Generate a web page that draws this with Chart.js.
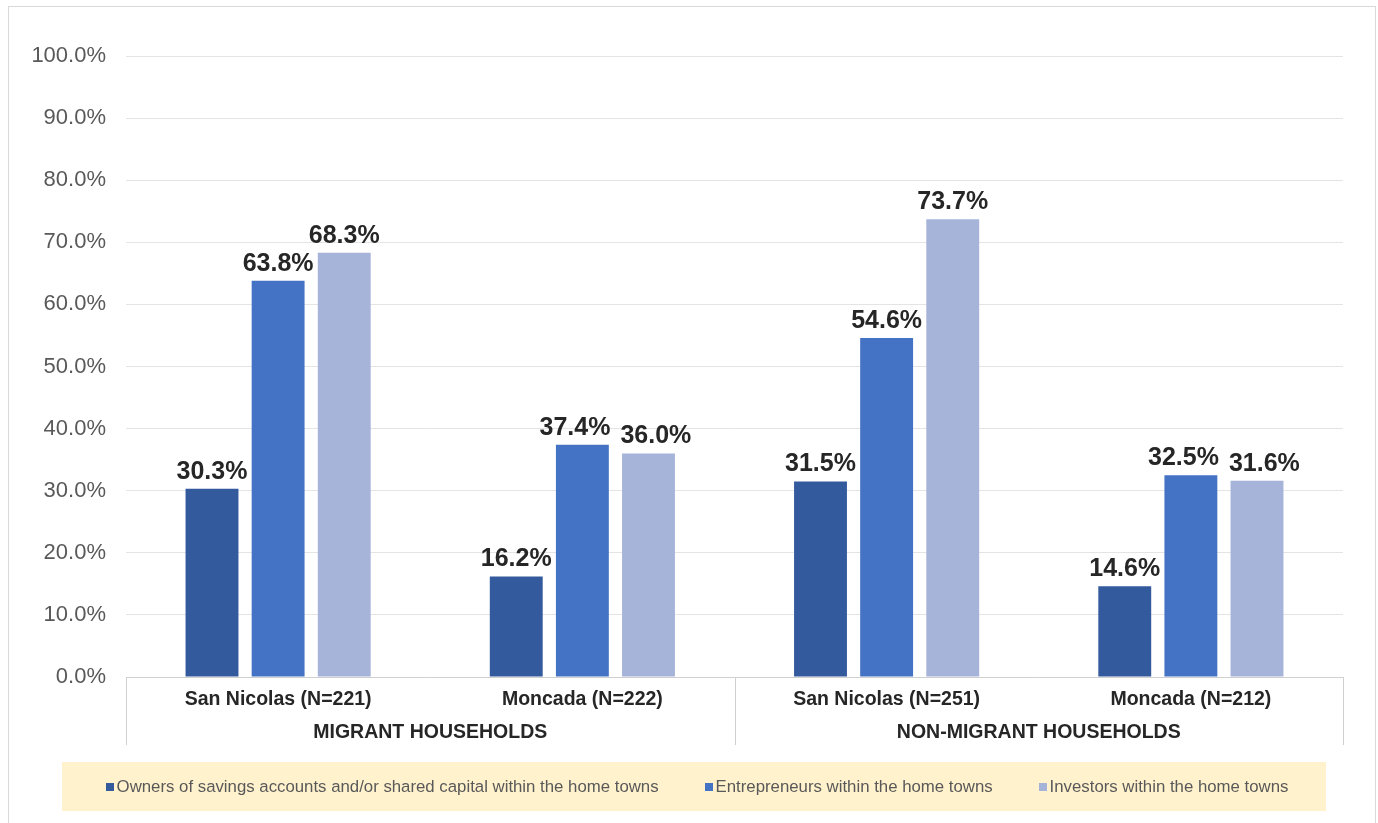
<!DOCTYPE html>
<html><head><meta charset="utf-8">
<script src="https://cdn.jsdelivr.net/npm/chart.js@4.4.1/dist/chart.umd.min.js"></script>
<style>html,body{margin:0;padding:0;background:#fff}#wrap{position:relative;width:1378px;height:823px}</style>
</head><body><div id="wrap"><canvas id="c" width="1378" height="823"></canvas></div>
<script>
const categories = ['San Nicolas (N=221)', 'Moncada (N=222)', 'San Nicolas (N=251)', 'Moncada (N=212)'];
const groups = ['MIGRANT HOUSEHOLDS', 'NON-MIGRANT HOUSEHOLDS'];
const seriesNames = [
  'Owners of savings accounts and/or shared capital within the home towns',
  'Entrepreneurs within the home towns',
  'Investors within the home towns'
];
const owners = [30.3, 16.2, 31.5, 14.6];
const entrepreneurs = [63.8, 37.4, 54.6, 32.5];
const investors = [68.3, 36.0, 73.7, 31.6];
const yMin = 0, yMax = 100, yStep = 10;

const FONT = "'Liberation Sans', Arial, Helvetica, sans-serif";
const colors = ['#345A9E', '#4472C4', '#A6B4DA'];

const decor = {
  id: 'decor',
  beforeDraw(chart) {
    const ctx = chart.ctx;
    ctx.save();
    ctx.fillStyle = '#fff';
    ctx.fillRect(0, 0, chart.width, chart.height);
    ctx.strokeStyle = '#d9d9d9';
    ctx.lineWidth = 1;
    ctx.strokeRect(8.5, 6.5, 1367, 830);
    ctx.restore();
  },
  afterDraw(chart) {
    const ctx = chart.ctx;
    const ca = chart.chartArea;
    const xs = chart.scales.x;
    ctx.save();
    // axis lines & group separators
    ctx.strokeStyle = '#d0d0d0';
    ctx.lineWidth = 1;
    ctx.beginPath();
    ctx.moveTo(ca.left, Math.round(ca.bottom) + 0.5);
    ctx.lineTo(ca.right, Math.round(ca.bottom) + 0.5);
    const mid = (xs.getPixelForValue(1) + xs.getPixelForValue(2)) / 2;
    [ca.left, mid, ca.right].forEach(x => {
      const px = Math.round(x) + 0.5;
      ctx.moveTo(px, ca.bottom);
      ctx.lineTo(px, ca.bottom + 68);
    });
    ctx.stroke();
    // group labels
    ctx.fillStyle = '#262626';
    ctx.font = 'bold 19.5px ' + FONT;
    ctx.textAlign = 'center';
    ctx.textBaseline = 'middle';
    ctx.fillText(groups[0], (xs.getPixelForValue(0) + xs.getPixelForValue(1)) / 2, ca.bottom + 56);
    ctx.fillText(groups[1], (xs.getPixelForValue(2) + xs.getPixelForValue(3)) / 2, ca.bottom + 56);
    // data labels with simple collision avoidance
    ctx.font = 'bold 25px ' + FONT;
    ctx.textBaseline = 'alphabetic';
    const capH = 19, minGap = 10;
    const nDs = chart.data.datasets.length;
    for (let j = 0; j < chart.data.labels.length; j++) {
      const labs = [];
      for (let i = 0; i < nDs; i++) {
        const el = chart.getDatasetMeta(i).data[j];
        const txt = chart.data.datasets[i].data[j].toFixed(1) + '%';
        const w = ctx.measureText(txt).width;
        labs.push({ txt, w, x: el.x, y: el.y - 10 });
      }
      for (let i = 0; i < nDs - 1; i++) {
        const a = labs[i], b = labs[i + 1];
        const vOverlap = Math.abs(a.y - b.y) < capH;
        const need = (a.w + b.w) / 2 + minGap;
        const have = b.x - a.x;
        if (vOverlap && have < need) {
          const d = (need - have) / 2;
          a.x -= d; b.x += d;
        }
      }
      labs.forEach(l => ctx.fillText(l.txt, l.x, l.y));
    }
    // legend
    const bx = 62, by = 762, bw = 1264, bh = 49;
    ctx.fillStyle = '#FFF2CC';
    ctx.fillRect(bx, by, bw, bh);
    ctx.font = '16.8px ' + FONT;
    const gap = 46, sq = 8, txtOff = 11;
    const widths = seriesNames.map(s => ctx.measureText(s).width);
    const total = widths.reduce((a, w) => a + w + txtOff, 0) + gap * (seriesNames.length - 1);
    let x = bx + bw / 2 - total / 2 + 3;
    const cy = by + bh / 2;
    ctx.textAlign = 'left';
    ctx.textBaseline = 'middle';
    seriesNames.forEach((s, i) => {
      ctx.fillStyle = colors[i];
      ctx.fillRect(Math.round(x), Math.round(cy - sq / 2), sq, sq);
      ctx.fillStyle = '#595959';
      ctx.fillText(s, x + txtOff, cy + 1);
      x += txtOff + widths[i] + gap;
    });
    ctx.restore();
  }
};

new Chart(document.getElementById('c'), {
  type: 'bar',
  data: {
    labels: categories,
    datasets: [
      { label: seriesNames[0], data: owners, backgroundColor: colors[0] },
      { label: seriesNames[1], data: entrepreneurs, backgroundColor: colors[1] },
      { label: seriesNames[2], data: investors, backgroundColor: colors[2] }
    ]
  },
  options: {
    responsive: false,
    animation: false,
    devicePixelRatio: 1,
    layout: { padding: { top: 56, right: 35, bottom: 0, left: 0 } },
    datasets: { bar: { categoryPercentage: 0.652, barPercentage: 0.8 } },
    plugins: { legend: { display: false }, tooltip: { enabled: false } },
    scales: {
      x: {
        grid: { display: false, drawTicks: false },
        border: { display: false },
        ticks: { color: '#262626', font: { family: FONT, size: 19.5, weight: 'bold' }, padding: 11, maxRotation: 0 },
        afterFit(s) { s.height = 146; }
      },
      y: {
        min: yMin, max: yMax,
        grid: { color: '#e4e4e4', drawTicks: false },
        border: { display: false },
        ticks: {
          stepSize: yStep, padding: 20, color: '#595959',
          font: { family: FONT, size: 22 },
          callback: v => v.toFixed(1) + '%'
        },
        afterFit(s) { s.width = 126; }
      }
    }
  },
  plugins: [decor]
});
</script></body></html>
